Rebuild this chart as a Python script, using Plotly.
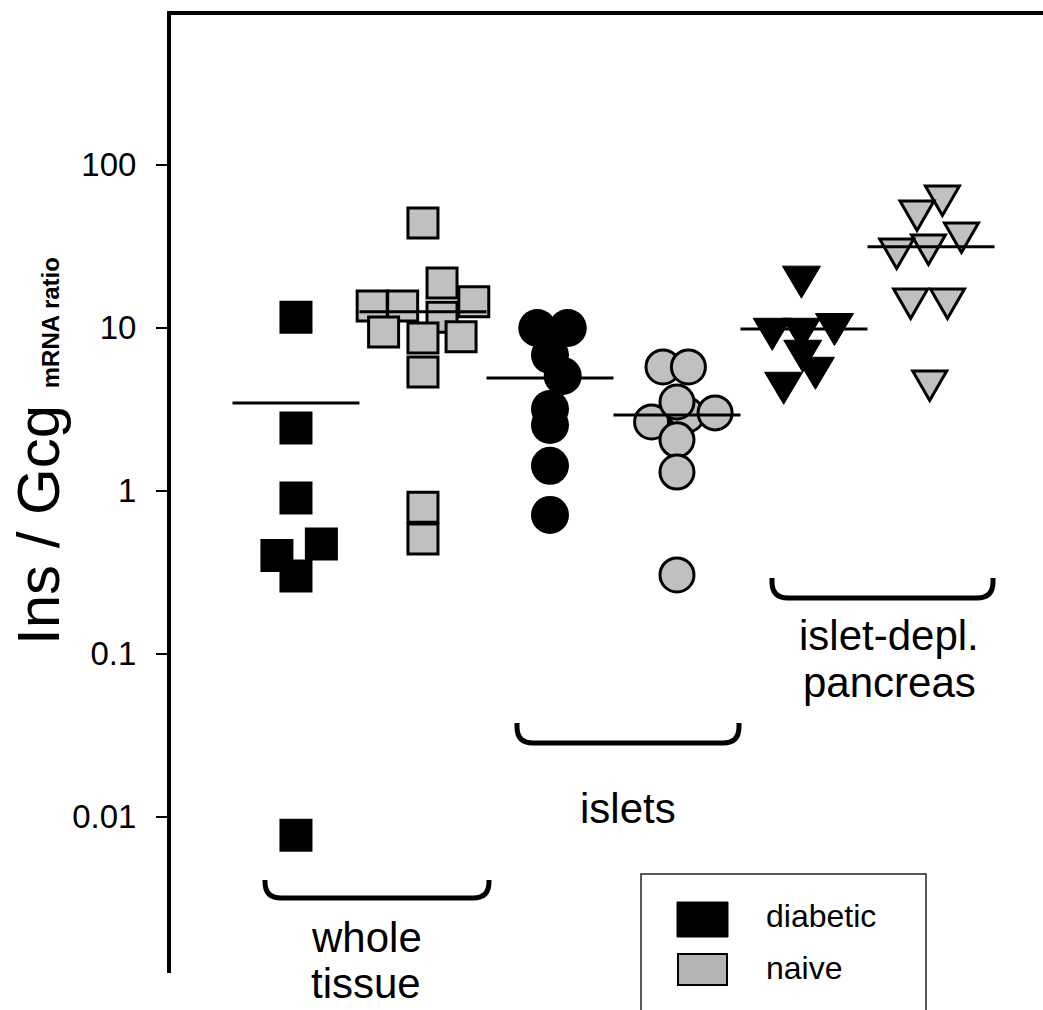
import plotly.graph_objects as go

# ---------------- data ----------------
group_names = ["whole tissue", "islets", "islet-depl. pancreas"]
condition_names = ["diabetic", "naive"]
y_tick_values = [0.01, 0.1, 1, 10, 100]
y_tick_labels = ["0.01", "0.1", "1", "10", "100"]

wt_diabetic = [11.6, 2.42, 0.90, 0.47, 0.40, 0.30, 0.0077]
wt_diabetic_jitter = [0, 0, 0, 0.20, -0.15, 0, 0]
wt_naive = [43.9, 18.8, 14.4, 13.6, 13.6, 11.6, 9.4, 8.8, 8.65, 5.35, 0.79, 0.505]
wt_naive_jitter = [0, 0.15, 0.40, -0.40, -0.16, 0.15, -0.31, 0.30, 0, 0, 0, 0]

is_diabetic = [9.96, 9.96, 6.8, 5.06, 3.17, 2.53, 1.42, 0.71]
is_diabetic_jitter = [-0.10, 0.14, 0, 0.10, 0, 0, 0, 0]
is_naive = [2.91, 2.64, 3.0, 5.74, 5.74, 3.5, 2.05, 1.30, 0.304]
is_naive_jitter = [0.08, -0.20, 0.30, -0.11, 0.09, 0, 0, 0, 0]

dp_diabetic = [20.5, 9.82, 9.82, 10.5, 7.2, 5.66, 4.58]
dp_diabetic_jitter = [-0.02, -0.25, -0.02, 0.24, -0.01, 0.09, -0.16]
dp_naive = [64.3, 52.0, 38.1, 32.2, 30.4, 15.0, 15.0, 4.71]
dp_naive_jitter = [0.09, -0.11, 0.24, -0.02, -0.27, -0.16, 0.13, -0.01]

means_diabetic = [3.45, 4.91, 9.82]
means_naive = [12.5, 2.91, 31.3]

# ---------------- styles ----------------
BLACK = "#000000"
GRAY = "#c0c0c0"
LEGEND_GRAY = "#b4b4b4"
FONT = "Liberation Sans, Arial, sans-serif"
symbols = ["square", "circle", "triangle-down"]

# plot-area geometry (pixels)
L, T, W, H = 171, 15, 872, 958
FIG_W, FIG_H = 1043, 1010


def px_x(p):
    return (p - L) / W


def px_y(p):
    return (T + H - p) / H


def tri_down_path(w, h):
    # equilateral-looking downward triangle, centroid on the data point (pixel units, y up)
    return f"M {-w / 2},{h / 3} L {w / 2},{h / 3} L 0,{-2 * h / 3} Z"


fig = go.Figure()
shapes = []

series = [
    (wt_diabetic, wt_diabetic_jitter, wt_naive, wt_naive_jitter),
    (is_diabetic, is_diabetic_jitter, is_naive, is_naive_jitter),
    (dp_diabetic, dp_diabetic_jitter, dp_naive, dp_naive_jitter),
]

for g, (dv, dj, nv, nj) in enumerate(series):
    xd = 2 * g + 1
    xn = 2 * g + 2
    sym = symbols[g]
    xs_d = [xd + j for j in dj]
    xs_n = [xn + j for j in nj]
    if sym == "square":
        d_marker = dict(symbol=sym, size=33, color=BLACK, line=dict(width=0))
        n_marker = dict(symbol=sym, size=30, color=GRAY, line=dict(width=3, color=BLACK))
    elif sym == "circle":
        d_marker = dict(symbol=sym, size=38, color=BLACK, line=dict(width=0))
        n_marker = dict(symbol=sym, size=34, color=GRAY, line=dict(width=3, color=BLACK))
    else:
        # triangles: plotly's built-in triangle is flatter than the reference, so the
        # visible glyphs are pixel-sized path shapes anchored at the data values
        d_marker = dict(symbol=sym, size=30, color=BLACK, opacity=0)
        n_marker = dict(symbol=sym, size=30, color=GRAY, opacity=0)
        for x, v in zip(xs_d, dv):
            shapes.append(dict(type="path", xref="x", yref="y", xsizemode="pixel",
                               ysizemode="pixel", xanchor=x, yanchor=v,
                               path=tri_down_path(38, 32), fillcolor=BLACK,
                               line=dict(color=BLACK, width=1), layer="below"))
        for x, v in zip(xs_n, nv):
            shapes.append(dict(type="path", xref="x", yref="y", xsizemode="pixel",
                               ysizemode="pixel", xanchor=x, yanchor=v,
                               path=tri_down_path(34, 29.5), fillcolor=GRAY,
                               line=dict(color=BLACK, width=3), layer="below"))

    fig.add_trace(go.Scatter(
        x=xs_d, y=dv, mode="markers", marker=d_marker,
        name=f"{group_names[g]} - {condition_names[0]}", hoverinfo="y"))
    fig.add_trace(go.Scatter(
        x=[xd - 0.5, xd + 0.5], y=[means_diabetic[g]] * 2, mode="lines",
        line=dict(color=BLACK, width=3), hoverinfo="skip"))
    fig.add_trace(go.Scatter(
        x=xs_n, y=nv, mode="markers", marker=n_marker,
        name=f"{group_names[g]} - {condition_names[1]}", hoverinfo="y"))
    fig.add_trace(go.Scatter(
        x=[xn - 0.5, xn + 0.5], y=[means_naive[g]] * 2, mode="lines",
        line=dict(color=BLACK, width=3), hoverinfo="skip"))

# ---------------- brackets under groups ----------------
brackets = [  # left, right, top, bottom (px)
    (265, 489, 880, 898),
    (517, 739, 723, 743),
    (772, 993, 578, 598),
]
R = 16
for (l, r, t, b) in brackets:
    path = (f"M {px_x(l)},{px_y(t)} L {px_x(l)},{px_y(b - R)} "
            f"Q {px_x(l)},{px_y(b)} {px_x(l + R)},{px_y(b)} "
            f"L {px_x(r - R)},{px_y(b)} "
            f"Q {px_x(r)},{px_y(b)} {px_x(r)},{px_y(b - R)} "
            f"L {px_x(r)},{px_y(t)}")
    shapes.append(dict(type="path", xref="paper", yref="paper", path=path,
                       line=dict(color=BLACK, width=5)))

# ---------------- legend box (drawn manually, cut by page bottom) ----------------
shapes.append(dict(type="rect", xref="paper", yref="paper",
                   x0=px_x(641), x1=px_x(926), y0=px_y(1030), y1=px_y(874),
                   line=dict(color="#222222", width=1.5), fillcolor="rgba(0,0,0,0)"))
shapes.append(dict(type="rect", xref="paper", yref="paper",
                   x0=px_x(677), x1=px_x(728), y0=px_y(937), y1=px_y(902),
                   line=dict(color=BLACK, width=1), fillcolor=BLACK))
shapes.append(dict(type="rect", xref="paper", yref="paper",
                   x0=px_x(678), x1=px_x(727), y0=px_y(985), y1=px_y(954),
                   line=dict(color=BLACK, width=2), fillcolor=LEGEND_GRAY))

annotations = []
label_font = dict(family=FONT, size=42, color=BLACK)
group_label_lines = [
    ("whole", 366, 937), ("tissue", 366, 984),
    ("islets", 628, 808),
    ("islet-depl.", 889, 636), ("pancreas", 889, 682),
]
for txt, x, y in group_label_lines:
    annotations.append(dict(text=txt, xref="paper", yref="paper", x=px_x(x), y=px_y(y),
                            xanchor="center", yanchor="middle", showarrow=False,
                            font=label_font))

for txt, y in [(condition_names[0], 916), (condition_names[1], 968)]:
    annotations.append(dict(text=txt, xref="paper", yref="paper", x=px_x(764), y=px_y(y),
                            xanchor="left", yanchor="middle", showarrow=False,
                            font=dict(family=FONT, size=32, color=BLACK)))

annotations.append(dict(
    text="Ins / Gcg <b><span style='font-size:24px'>mRNA ratio</span></b>",
    xref="paper", yref="paper", x=px_x(38), y=px_y(451), textangle=-90,
    xanchor="center", yanchor="middle", showarrow=False,
    font=dict(family=FONT, size=60, color=BLACK)))

fig.update_layout(
    width=FIG_W, height=FIG_H,
    margin=dict(l=L, r=FIG_W - L - W, t=T, b=FIG_H - T - H),
    plot_bgcolor="white", paper_bgcolor="white",
    showlegend=False,
    shapes=shapes, annotations=annotations,
    xaxis=dict(range=[0.016, 6.882], showticklabels=False, ticks="", showgrid=False,
               zeroline=False, showline=True, side="top", linecolor=BLACK, linewidth=4),
    yaxis=dict(type="log", range=[-2.959, 2.918], tickvals=y_tick_values,
               ticktext=y_tick_labels, ticks="outside", ticklen=11, tickwidth=2,
               tickcolor=BLACK, showline=True, linecolor=BLACK, linewidth=4,
               showgrid=False, zeroline=False, ticklabelstandoff=13,
               tickfont=dict(family=FONT, size=33, color=BLACK)),
)

fig.write_html("out.html", config={"displayModeBar": False},
               post_script="document.body.style.margin='0px';")
